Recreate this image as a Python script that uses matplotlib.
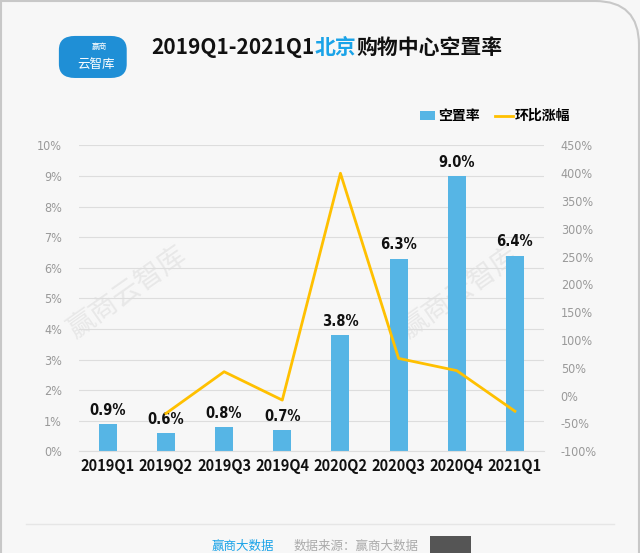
import matplotlib
matplotlib.use("Agg")
import matplotlib.pyplot as plt
from matplotlib.patches import FancyBboxPatch, Rectangle, PathPatch
from matplotlib.path import Path
from matplotlib.ticker import FuncFormatter, MultipleLocator

plt.rcParams['font.family'] = ['Noto Sans CJK SC', 'DejaVu Sans']

quarters = ["2019Q1", "2019Q2", "2019Q3", "2019Q4", "2020Q2", "2020Q3", "2020Q4", "2021Q1"]
vacancy = [0.9, 0.6, 0.8, 0.7, 3.8, 6.3, 9.0, 6.4]          # 空置率 (%)
qoq = [None, -32, 43, -8, 400, 67, 45, -28]                  # 环比涨幅 (%)
vacancy_labels = ["0.9%", "0.6%", "0.8%", "0.7%", "3.8%", "6.3%", "9.0%", "6.4%"]

bar_color = "#56b5e5"
line_color = "#ffc000"
bg = "#f7f7f7"

fig = plt.figure(figsize=(6.4, 5.53), dpi=100, facecolor=bg)

# frame: straight left/top, rounded top-right corner (pixel coords)
W, H = 640, 553
verts = [(1, 0), (1, H - 1), (595, H - 1), (639, H - 1), (639, H - 45), (639, 0)]
codes = [Path.MOVETO, Path.LINETO, Path.LINETO, Path.CURVE3, Path.CURVE3, Path.LINETO]
verts = [(vx / W, vy / H) for vx, vy in verts]
fig.patches.append(PathPatch(Path(verts, codes), transform=fig.transFigure, facecolor="none",
                             edgecolor="#c8c8c8", lw=1.5, zorder=-10))

# watermark
for wx, wy in [(0.2, 0.47), (0.72, 0.47)]:
    fig.text(wx, wy, "赢商云智库", fontsize=20, color="#e8e8e8", rotation=35,
             ha="center", va="center", zorder=-5)

ax = fig.add_axes([0.123, 0.184, 0.727, 0.553])
ax.set_facecolor("none")
x = list(range(len(quarters)))
ax.bar(x, vacancy, width=0.31, color=bar_color, zorder=2)
for xi, v, lab in zip(x, vacancy, vacancy_labels):
    ax.text(xi, v + 0.2, lab, ha="center", va="bottom", fontsize=10.5, fontweight="bold",
            family="DejaVu Sans", stretch="condensed", color="#111111", zorder=5)
ax.set_xlim(-0.5, 7.5)
ax.set_ylim(0, 10)
ax.yaxis.set_major_locator(MultipleLocator(1))
ax.yaxis.set_major_formatter(FuncFormatter(lambda v, p: f"{v:.0f}%"))
ax.grid(axis="y", color="#dddddd", lw=0.8, zorder=0)
ax.set_xticks(x)
ax.set_xticklabels(quarters, fontsize=10.5, fontweight="bold", color="#111111")
ax.tick_params(axis="x", length=0, pad=5)
ax.tick_params(axis="y", length=0, pad=12, labelsize=9, labelcolor="#999999")
for t in ax.get_yticklabels():
    t.set_family("DejaVu Sans")
    t.set_stretch("condensed")
for s in ax.spines.values():
    s.set_visible(False)
ax.spines["bottom"].set_visible(True)
ax.spines["bottom"].set_color("#dddddd")

ax2 = ax.twinx()
ax2.plot(x[1:], qoq[1:], color=line_color, lw=2, zorder=3)
ax2.set_ylim(-100, 450)
ax2.yaxis.set_major_locator(MultipleLocator(50))
ax2.yaxis.set_major_formatter(FuncFormatter(lambda v, p: f"{v:.0f}%"))
ax2.tick_params(axis="y", length=0, pad=12, labelsize=9, labelcolor="#999999")
for t in ax2.get_yticklabels():
    t.set_family("DejaVu Sans")
    t.set_stretch("condensed")
for s in ax2.spines.values():
    s.set_visible(False)

# legend
fig.patches.append(Rectangle((0.656, 0.783), 0.024, 0.016, transform=fig.transFigure,
                             facecolor=bar_color, edgecolor="none"))
fig.text(0.684, 0.791, "空置率", fontsize=10, fontweight="bold", va="center")
fig.lines.append(plt.Line2D([0.774, 0.802], [0.791, 0.791], transform=fig.transFigure,
                            color=line_color, lw=2))
fig.text(0.804, 0.791, "环比涨幅", fontsize=10, fontweight="bold", va="center")

# title with blue highlight
parts = [("2019Q1-2021Q1", "#111111"), ("北京", "#1aa3e8"), ("购物中心空置率", "#111111")]
fig.canvas.draw()
r = fig.canvas.get_renderer()
xpos = 0.237
for txt, col in parts:
    t = fig.text(xpos, 0.915, txt, fontsize=15, fontweight="bold", color=col, va="center")
    bb = t.get_window_extent(renderer=r)
    xpos += bb.width / fig.bbox.width

# logo
fig.patches.append(FancyBboxPatch((0.095, 0.862), 0.1, 0.07, boxstyle="round,pad=0.003,rounding_size=0.025",
                                  transform=fig.transFigure, facecolor="#1f8fd6", edgecolor="none"))
fig.text(0.155, 0.915, "赢商", fontsize=5.5, color="white", ha="center", va="center")
fig.text(0.15, 0.884, "云智库", fontsize=9, color="white", ha="center", va="center")

# footer
fig.lines.append(plt.Line2D([0.04, 0.96], [0.053, 0.053], transform=fig.transFigure, color="#e6e6e6", lw=1))
fig.text(0.33, 0.012, "赢商大数据", fontsize=9, color="#1aa3e8", ha="left", va="center")
fig.text(0.458, 0.012, "数据来源：赢商大数据", fontsize=9, color="#aaaaaa", ha="left", va="center")
fig.patches.append(Rectangle((0.672, -0.01), 0.064, 0.04, transform=fig.transFigure,
                             facecolor="#555555", edgecolor="none"))

fig.savefig("out.png", dpi=100, facecolor=bg)
